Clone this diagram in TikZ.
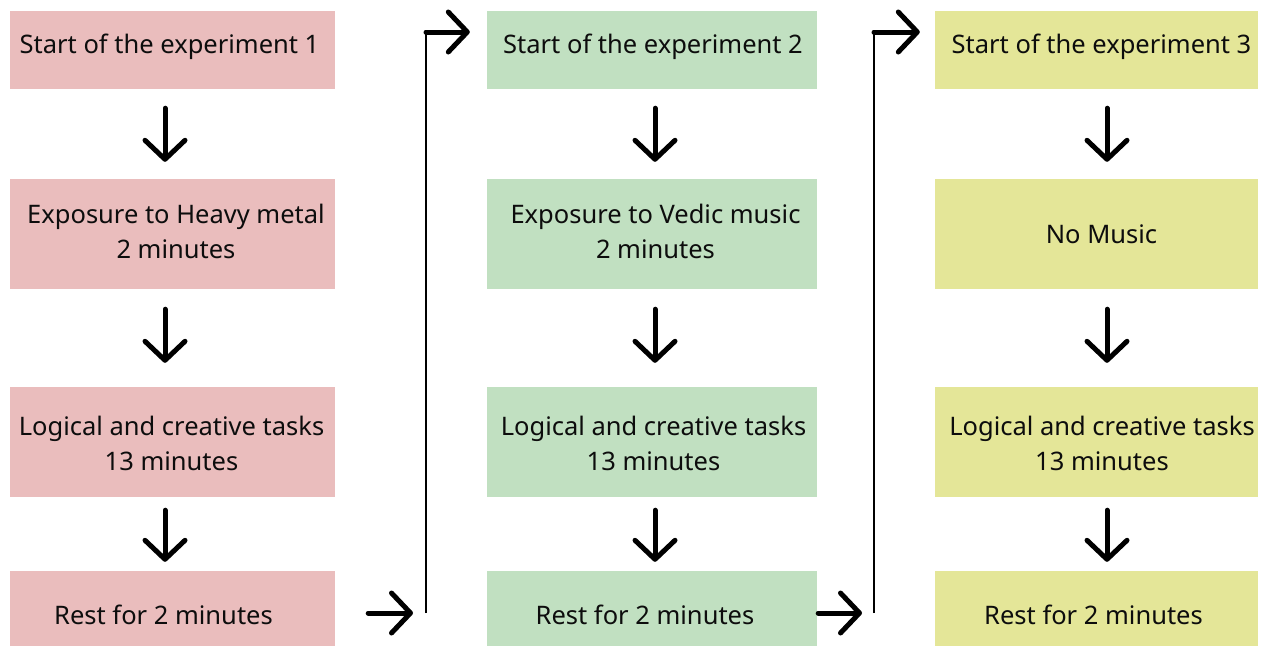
\documentclass[tikz,border=0pt]{standalone}
\usepackage{fontspec}
\setmainfont{Noto Sans}
\usetikzlibrary{arrows.meta,calc}
\definecolor{cpink}{RGB}{234,189,189}
\definecolor{cgreen}{RGB}{193,224,193}
\definecolor{cyellow}{RGB}{228,230,152}
\tikzset{
  box/.style={rectangle, draw=none, inner sep=0pt, minimum width=#1},
  txt/.style={align=center, inner sep=0pt, font=\fontsize{25.5}{35}\selectfont, text=black!95},
  darr/.style={line width=5pt, line cap=round, line join=round, draw=black,
    -{Straight Barb[length=19pt,width=40pt,round]}},
  thinline/.style={line width=2pt, draw=black},
}
\begin{document}
\begin{tikzpicture}[x=1pt,y=-1pt]
\useasboundingbox (0,0) rectangle (1265,645);
\clip (0,0) rectangle (1265,645);
% column 1
\node[box=325pt, fill=cpink, minimum height=78pt] (b11) at (172.5,50) {};
\node[box=325pt, fill=cpink, minimum height=110pt] (b12) at (172.5,234) {};
\node[box=325pt, fill=cpink, minimum height=110pt] (b13) at (172.5,442) {};
\node[box=325pt, fill=cpink, minimum height=86pt] (b14) at (172.5,614) {};
% column 2
\node[box=330pt, fill=cgreen, minimum height=78pt] (b21) at (652,50) {};
\node[box=330pt, fill=cgreen, minimum height=110pt] (b22) at (652,234) {};
\node[box=330pt, fill=cgreen, minimum height=110pt] (b23) at (652,442) {};
\node[box=330pt, fill=cgreen, minimum height=86pt] (b24) at (652,614) {};
% column 3
\node[box=323pt, fill=cyellow, minimum height=78pt] (b31) at (1096.5,50) {};
\node[box=323pt, fill=cyellow, minimum height=110pt] (b32) at (1096.5,234) {};
\node[box=323pt, fill=cyellow, minimum height=110pt] (b33) at (1096.5,442) {};
\node[box=323pt, fill=cyellow, minimum height=86pt] (b34) at (1096.5,614) {};
% texts
\node[txt] (t11) at (169.5,47) {Start of the experiment 1};
\node[txt] (t12) at (176,231) {Exposure to Heavy metal\\2 minutes};
\node[txt] (t13) at (171.5,443) {Logical and creative tasks\\13 minutes};
\node[txt] (t14) at (163.5,615) {Rest for 2 minutes};
\node[txt] (t21) at (653,47) {Start of the experiment 2};
\node[txt] (t22) at (655.5,231) {Exposure to Vedic music\\2 minutes};
\node[txt] (t23) at (653.5,443) {Logical and creative tasks\\13 minutes};
\node[txt] (t24) at (645,615) {Rest for 2 minutes};
\node[txt] (t31) at (1101.5,47) {Start of the experiment 3};
\node[txt] (t32) at (1101.5,234) {No Music};
\node[txt] (t33) at (1102,443) {Logical and creative tasks\\13 minutes};
\node[txt] (t34) at (1093.5,615) {Rest for 2 minutes};
% down arrows
\draw[darr] ($(b11.south)+(-7.5,19)$) -- ($(b12.north)+(-7.5,-17)$);
\draw[darr] ($(b12.south)+(-7.5,20)$) -- ($(b13.north)+(-7.5,-24)$);
\draw[darr] ($(b13.south)+(-7.5,13)$) -- ($(b14.north)+(-7.5,-9)$);
\draw[darr] ($(b21.south)+(3,19)$) -- ($(b22.north)+(3,-17)$);
\draw[darr] ($(b22.south)+(3,20)$) -- ($(b23.north)+(3,-24)$);
\draw[darr] ($(b23.south)+(3,13)$) -- ($(b24.north)+(3,-9)$);
\draw[darr] ($(b31.south)+(10.5,19)$) -- ($(b32.north)+(10.5,-17)$);
\draw[darr] ($(b32.south)+(10.5,20)$) -- ($(b33.north)+(10.5,-24)$);
\draw[darr] ($(b33.south)+(10.5,13)$) -- ($(b34.north)+(10.5,-9)$);
% connectors between columns
\coordinate (c1a) at (426,613);
\coordinate (c1b) at (426,32);
\coordinate (c2a) at (874,613);
\coordinate (c2b) at (874,32);
\draw[darr] ($(b14.east)+(33,-1)$) -- ($(c1a)+(-13,0)$);
\draw[thinline] (c1a) -- (c1b);
\draw[darr] (c1b) -- ($(b21.west |- c1b)+(-17,0)$);
\draw[darr] ($(b24.east)+(1,-1)$) -- ($(c2a)+(-12,0)$);
\draw[thinline] (c2a) -- (c2b);
\draw[darr] (c2b) -- ($(b31.west |- c2b)+(-15,0)$);
\end{tikzpicture}
\end{document}
